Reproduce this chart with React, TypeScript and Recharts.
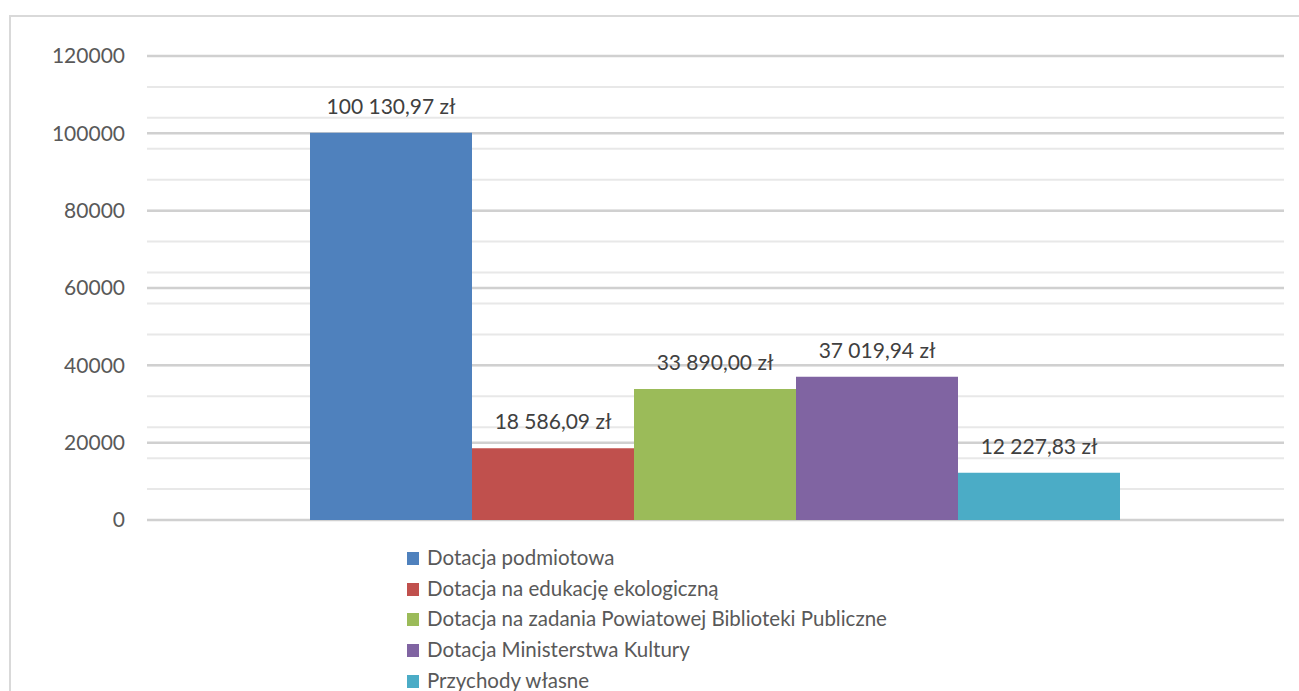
import { BarChart, Bar, XAxis, YAxis, CartesianGrid, Legend, LabelList } from "recharts";

const seriesNames = [
    "Dotacja podmiotowa",
    "Dotacja na edukację ekologiczną",
    "Dotacja na zadania Powiatowej Biblioteki Publiczne",
    "Dotacja Ministerstwa Kultury",
    "Przychody własne",
];
const seriesValues = [100130.97, 18586.09, 33890.0, 37019.94, 12227.83];
const seriesColors = ["#4F81BD", "#C0504D", "#9BBB59", "#8064A2", "#4BACC6"];
const seriesKeys = ["s0", "s1", "s2", "s3", "s4"];

const yTicks = [0, 20000, 40000, 60000, 80000, 100000, 120000];
const minorTicks = [
    0, 4000, 8000, 12000, 16000, 20000, 24000, 28000, 32000, 36000, 40000, 44000, 48000, 52000, 56000, 60000,
    64000, 68000, 72000, 76000, 80000, 84000, 88000, 92000, 96000, 100000, 104000, 108000, 112000, 116000, 120000,
];

const row: Record<string, number | string> = { name: "Przychody" };
seriesKeys.forEach((k, i) => {
    row[k] = seriesValues[i];
});
const data = [row];

// 100130.97 -> "100 130,97 zł"
const formatZl = (v: any) => {
    const [intPart, dec] = Number(v).toFixed(2).split(".");
    const grouped = intPart.replace(/\B(?=(\d{3})+(?!\d))/g, " ");
    return `${grouped},${dec} zł`;
};

const LegendList = () => (
    <ul style={{ listStyle: "none", margin: 0, padding: 0 }}>
        {seriesNames.map((n, i) => (
            <li key={n} style={{ height: 30.7, lineHeight: "30.7px", color: "#595959", fontSize: 20.5, whiteSpace: "nowrap" }}>
                <span
                    style={{
                        display: "inline-block",
                        width: 12,
                        height: 13,
                        background: seriesColors[i],
                        marginRight: 8,
                        verticalAlign: "0px",
                    }}
                />
                {n}
            </li>
        ))}
    </ul>
);

const App = () => {
    return (
        <div
            style={{
                position: "fixed",
                top: 0,
                left: 0,
                width: 1299,
                height: 691,
                background: "#fff",
                overflow: "hidden",
                fontFamily: "Lato, sans-serif",
            }}
        >
            {/* chart frame */}
            <div
                style={{
                    position: "absolute",
                    left: 9,
                    top: 15,
                    width: 1400,
                    height: 800,
                    borderLeft: "2px solid #d9d9d9",
                    borderTop: "2px solid #d9d9d9",
                }}
            />
            <div style={{ position: "absolute", left: 0, top: 0 }}>
                <BarChart
                    width={1299}
                    height={691}
                    data={data}
                    margin={{ top: 56, right: 15, left: 0, bottom: 11 }}
                    barGap={0}
                    barCategoryGap={163}
                >
                    <CartesianGrid vertical={false} horizontalValues={minorTicks} stroke="#e8e8e8" strokeWidth={2} />
                    <CartesianGrid vertical={false} stroke="#d0d0d0" strokeWidth={2.5} />
                    <XAxis dataKey="name" hide />
                    <YAxis
                        domain={[0, 120000]}
                        ticks={yTicks}
                        width={147}
                        axisLine={false}
                        tickLine={false}
                        tickMargin={16}
                        tick={{ fill: "#595959", fontSize: 21 }}
                    />
                    {seriesKeys.map((k, i) => (
                        <Bar key={k} dataKey={k} name={seriesNames[i]} fill={seriesColors[i]} isAnimationActive={false}>
                            <LabelList dataKey={k} position="top" offset={19} formatter={formatZl} fill="#404040" fontSize={21} />
                        </Bar>
                    ))}
                    <Legend
                        content={<LegendList />}
                        wrapperStyle={{ left: 407, top: 542, width: 700, height: 160 }}
                    />
                </BarChart>
            </div>
        </div>
    );
};

export default App;
